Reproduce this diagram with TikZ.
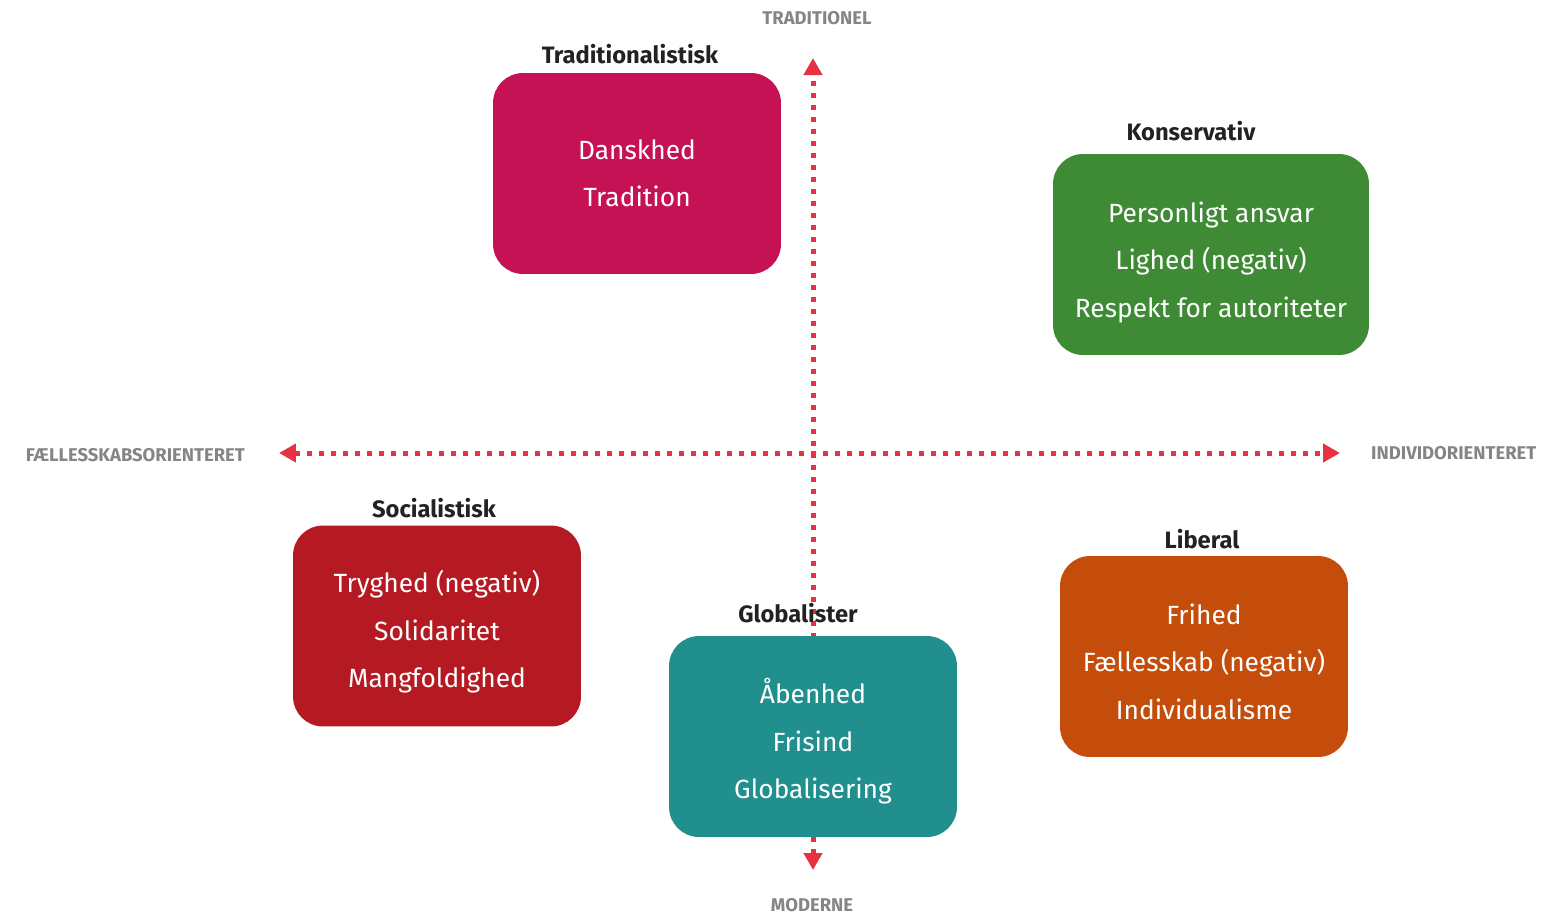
\documentclass[tikz,border=0pt]{standalone}
\usepackage{fontspec}
\setmainfont{Fira Sans}
\usetikzlibrary{arrows.meta}
\definecolor{tradcol}{HTML}{C41254}
\definecolor{konscol}{HTML}{3E8A35}
\definecolor{soccol}{HTML}{B51A22}
\definecolor{globcol}{HTML}{218F8D}
\definecolor{libcol}{HTML}{C44D0B}
\definecolor{axisred}{HTML}{E63241}
\definecolor{axisgray}{HTML}{858585}
\definecolor{titlegray}{HTML}{222222}
\begin{document}
\begin{tikzpicture}[x=0.02cm,y=-0.02cm]
	\tikzstyle{Box} = [rectangle, rounded corners=0.6cm, minimum width=5.76cm, minimum height=4.02cm]
	\tikzstyle{BoxText} = [text=white, align=center, font=\fontsize{15pt}{27pt}\selectfont]
	\tikzstyle{Title} = [font=\bfseries\fontsize{13.5pt}{15pt}\selectfont, text=titlegray]
	\tikzstyle{Axis} = [font=\bfseries\fontsize{10.5pt}{11pt}\selectfont, text=axisgray]
	\tikzstyle{arrow} = [line width=0.1cm, axisred, dash pattern=on 0.1cm off 0.14cm, {Triangle[width=0.36cm,length=0.34cm]}-{Triangle[width=0.36cm,length=0.34cm]}]

	\useasboundingbox (0,0) rectangle (1542,914);

	% axes
	\coordinate (up) at (813,58);
	\coordinate (down) at (813,870);
	\coordinate (left) at (279,453);
	\coordinate (right) at (1340,453);
	\draw [arrow] (down) -- (up);
	\draw [arrow] (left) -- (right);

	\node (trad-axis) [Axis] at (817,18) {TRADITIONEL};
	\node (mod-axis) [Axis] at (812,905) {MODERNE};
	\node (fael-axis) [Axis, anchor=east] at (251,455) {FÆLLESSKABSORIENTERET};
	\node (ind-axis) [Axis, anchor=west] at (1365,453) {INDIVIDORIENTERET};

	% quadrants
	\node (trad) [Box, fill=tradcol] at (637,173.5) {};
	\node (kons) [Box, fill=konscol, minimum width=6.32cm] at (1211,254.5) {};
	\node (soc) [Box, fill=soccol] at (437,626) {};
	\node (glob) [Box, fill=globcol] at (813,736.5) {};
	\node (lib) [Box, fill=libcol] at (1204,656.5) {};

	\node (trad-text) [BoxText] at (637,173.5) {Danskhed\\Tradition};
	\node (kons-text) [BoxText] at (1211,262.5) {Personligt ansvar\\Lighed (negativ)\\Respekt for autoriteter};
	\node (soc-text) [BoxText] at (437,632) {Tryghed (negativ)\\Solidaritet\\Mangfoldighed};
	\node (glob-text) [BoxText] at (813,741.5) {Åbenhed\\Frisind\\Globalisering};
	\node (lib-text) [BoxText] at (1204,661.5) {Frihed\\Fællesskab (negativ)\\Individualisme};

	\node (trad-title) [Title] at (630,54) {Traditionalistisk};
	\node (kons-title) [Title] at (1191,131) {Konservativ};
	\node (soc-title) [Title] at (434,508) {Socialistisk};
	\node (glob-title) [Title] at (798,613) {Globalister};
	\node (lib-title) [Title] at (1202,539) {Liberal};
\end{tikzpicture}
\end{document}
